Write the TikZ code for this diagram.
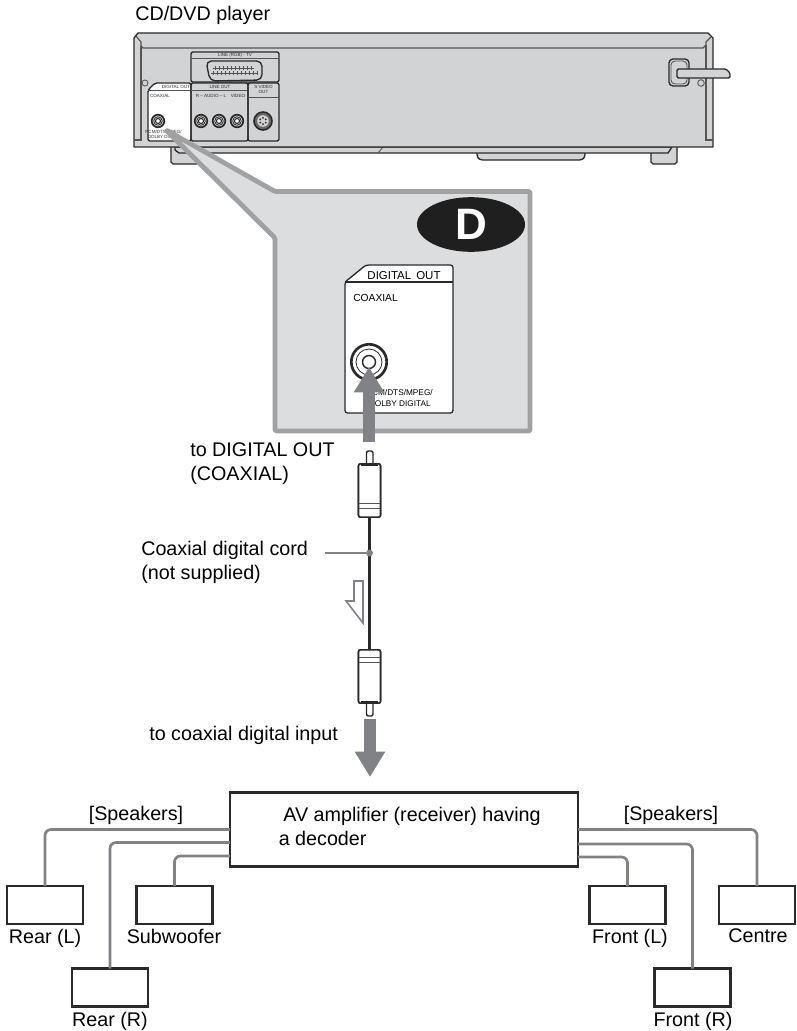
\documentclass[tikz,border=0pt]{standalone}
\usepackage{fontspec}
\setmainfont{Liberation Sans}
\usepackage{xcolor}
\usetikzlibrary{arrows.meta, positioning, shapes.geometric, calc}
\definecolor{bodyGray}{HTML}{D1D3D4}
\definecolor{zoomGray}{HTML}{DCDDDE}
\definecolor{edgeGray}{HTML}{A0A1A3}
\definecolor{arrowGray}{HTML}{808285}
\definecolor{inkDark}{HTML}{2B2A2B}
\tikzset{
    capText/.style={font=\fontsize{14.8}{18}\selectfont, anchor=base west, inner sep=0pt, align=left},
    midText/.style={capText, anchor=base},
    spkBox/.style={draw=inkDark, fill=white, line width=2.2pt, inner sep=0pt, outer sep=0pt, minimum width=57pt, minimum height=28.5pt},
    ampBox/.style={spkBox, minimum width=261pt, minimum height=56pt},
    wire/.style={draw=arrowGray, line width=2pt, rounded corners=4.5pt},
    bodyLine/.style={draw=inkDark, line width=1pt, line join=round},
    thinLine/.style={draw=inkDark!80, line width=0.65pt},
    tinyText/.style={font=\fontsize{3.4}{4}\selectfont, inner sep=0pt, text=inkDark},
    panelText/.style={font=\fontsize{7.7}{9}\selectfont, inner sep=0pt, text=black},
    bigArrow/.style={-{Triangle[length=19pt, width=21.5pt]}, draw=arrowGray, fill=arrowGray, line width=8.7pt},
    plugBody/.style={draw=inkDark, fill=white, line width=1.2pt, rounded corners=1.5pt, inner sep=0pt, outer sep=0pt, minimum width=16.5pt, minimum height=40pt},
    jackRing/.pic={
        \draw[inkDark, fill=zoomGray, line width=1.3pt] (0,0) circle (6.3);
        \draw[inkDark, line width=0.6pt] (0,0) circle (4.3);
        \draw[inkDark, fill=white, line width=0.8pt] (0,0) circle (2.5);
    }
}
\begin{document}
\begin{tikzpicture}[x=0.75pt, y=-0.75pt]
    \useasboundingbox (0,0) rectangle (796,1031);
    % player
    \node[capText] (playerText) at (135,21) {CD/DVD player};
    \draw[bodyLine, fill=bodyGray] (171,147) -- (171,162) -- (173,164) -- (197,164) -- (197,147);
    \draw[bodyLine, fill=bodyGray] (651,153) -- (651,162) -- (653,164) -- (675,164) -- (677,162) -- (677,147);
    \draw[bodyLine, fill=bodyGray, rounded corners=2pt] (477,153) -- (477,157) -- (480,160) -- (582,160) -- (585,157) -- (585,153);
    \draw[bodyLine, fill=bodyGray] (175,147) -- (175,150) -- (179,153) -- (668,153) -- (672,147) -- cycle;
    \draw[thinLine] (383,147) -- (378,153);
    \draw[bodyLine, fill=bodyGray] (134,38) -- (138,33) -- (708,33) -- (713,38) -- (713,147) -- (134,147) -- cycle;
    \draw[thinLine, line width=0.9pt] (136,36) -- (141,42) -- (141,46) -- (143,48) -- (703,48) -- (706,45) -- (706,42) -- (711,37);
    \draw[thinLine, line width=0.9pt] (141,46) -- (141,140) -- (134,140);
    \draw[thinLine, line width=0.9pt] (706,45) -- (706,140) -- (713,140);
    \draw[thinLine] (145,83) circle (3);
    % right end
    \draw[bodyLine, rounded corners=3pt] (669,59) rectangle (689,86);
    \draw[thinLine, rounded corners=3pt] (671,61) rectangle (687,84);
    \draw[bodyLine, fill=bodyGray, rounded corners=1pt] (677,69) -- (726,69) -- (730,73) -- (730,78) -- (677,78) -- cycle;
    \draw[thinLine] (701,83) circle (3.3);
    % back panel
    \draw[bodyLine, rounded corners=1.5pt] (191,52) rectangle (279,82);
    \draw[thinLine] (191,58) -- (279,58);
    \draw[bodyLine, rounded corners=4pt] (206,61) -- (262,61) -- (262,80) -- (210,81) -- cycle;
    \draw[thinLine] (213,68) -- (254,68) (211,73) -- (258,73);
    \foreach \px in {215,219,...,251} { \draw[thinLine] (\px,66) -- (\px,70); }
    \foreach \px in {213,217,...,257} { \draw[thinLine] (\px,71) -- (\px,75); }
    \draw[bodyLine, fill=white, rounded corners=1.5pt] (148,90) -- (155,83) -- (191,83) -- (191,141) -- (148,141) -- cycle;
    \draw[thinLine] (155,90) -- (148,90) (155,90) -- (191,90);
    \draw[bodyLine, rounded corners=1.5pt] (191,83) rectangle (248,141);
    \draw[thinLine] (191,90) -- (248,90);
    \draw[bodyLine, rounded corners=1.5pt] (248,83) rectangle (279,141);
    \draw[thinLine] (248,97) -- (279,97);
    \node[tinyText] (lineScart) at (235,55) {LINE (RGB) - TV};
    \node[tinyText] (digiSmall) at (176,87) {DIGITAL OUT};
    \node[tinyText] (lineOut) at (220,87) {LINE OUT};
    \node[tinyText] (sVideo) at (263.5,90) {\begin{tabular}{@{}c@{}}S VIDEO\\[-0.6pt]OUT\end{tabular}};
    \node[tinyText] (coaxSmall) at (160,96) {COAXIAL};
    \node[tinyText] (audioSmall) at (211,96) {R -- AUDIO -- L};
    \node[tinyText] (videoSmall) at (238,96) {VIDEO};
    \node[tinyText, anchor=east] (pcmSmall) at (182,132) {PCM/DTS/MPEG/};
    \node[tinyText, anchor=east] (dolbySmall) at (182,137) {DOLBY DIGITAL};
    \foreach \jx in {158,201,219,237} { \pic at (\jx,121) {jackRing}; }
    \draw[inkDark, fill=inkDark!70, line width=1.2pt] (263,121) circle (9);
    \draw[fill=bodyGray, draw=none] (263,121) circle (5.8);
    \foreach \sa in {30,90,150,210,270,330} { \fill[inkDark] (263,121) ++(\sa:3.2) circle (1); }
    % zoom callout
    \draw[draw=edgeGray, fill=zoomGray, line width=3.6pt, rounded corners=1pt, line join=round] (166,130) -- (275,191.5) -- (530,191.5) -- (530,431) -- (275,431) -- (275,238) -- cycle;
    \node[ellipse, fill=black!88, inner sep=0pt, minimum width=81pt, minimum height=41pt, text=white, font=\fontsize{33}{36}\bfseries\selectfont] (badgeD) at (471,224.5) {D};
    \draw[draw=inkDark, fill=white, line width=1pt, rounded corners=2pt] (345,282) -- (366,265) -- (453,265) -- (453,413) -- (345,413) -- cycle;
    \draw[inkDark, line width=0.8pt] (345,282) -- (453,282);
    \node[panelText, font=\fontsize{8.6}{10}\selectfont, anchor=base] (digiBig) at (404,279) {DIGITAL\, OUT};
    \node[panelText, anchor=base west] (coaxBig) at (353,301) {COAXIAL};
    \node[panelText, font=\fontsize{6.2}{7}\selectfont, anchor=base east] (pcmBig) at (433,395) {PCM/DTS/MPEG/};
    \node[panelText, font=\fontsize{6.2}{7}\selectfont, anchor=base east] (dolbyBig) at (431,406) {DOLBY DIGITAL};
    \draw[inkDark, line width=2pt] (369,362) circle (17.7);
    \draw[inkDark, line width=0.6pt] (369,362) circle (13);
    \draw[inkDark, line width=1.1pt] (369,362) circle (6.5);
    % cord
    \coordinate (jackTip) at (369,367);
    \coordinate (upperTail) at (369,442);
    \draw[bigArrow] (upperTail) -- (jackTip);
    \draw[draw=inkDark, fill=white, line width=1.1pt, rounded corners=1.5pt] (366.5,465) -- (366.5,451) -- (373,451) -- (373,465);
    \draw[draw=inkDark, fill=white, line width=1.1pt, rounded corners=1.5pt] (366.5,703) -- (366.5,716) -- (373,716) -- (373,703);
    \node[plugBody] (plugTop) at (369.5,490.5) {};
    \node[plugBody] (plugLow) at (369.5,676.5) {};
    \draw[inkDark, line width=2.9pt] (plugTop) -- (plugLow);
    \node[plugBody] at (plugTop) {};
    \node[plugBody] at (plugLow) {};
    \draw[thinLine] (359,503.5) -- (380,503.5) (359,508) -- (380,508) (359,657) -- (380,657) (359,662) -- (380,662);
    \draw[inkDark, line width=1.6pt] (361,464.5) -- (378,464.5) (361,702.5) -- (378,702.5);
    \node[circle, fill=arrowGray, inner sep=0pt, minimum size=5.2pt] (cordDot) at (369.5,553) {};
    \coordinate (leaderEnd) at (325,553);
    \draw[arrowGray, line width=1.1pt] (leaderEnd) -- (cordDot);
    \draw[draw=arrowGray, line width=1.2pt] (354,581) -- (363,581) -- (363,623) -- (346,601) -- (354,601) -- cycle;
    \coordinate (lowerTail) at (370,719);
    \coordinate (ampTip) at (370,777);
    \draw[bigArrow] (lowerTail) -- (ampTip);
    \node[capText] (toDigital) at (190,480) {to DIGITAL OUT\\(COAXIAL)};
    \node[capText] (cordText) at (141,579) {Coaxial digital cord\\(not supplied)};
    \node[capText] (toCoax) at (149,740) {to coaxial digital input};
    % amplifier and speakers
    \node[ampBox] (amp) at (404,829.5) {};
    \node[capText] (ampText) at (278.5,845) {\hspace*{3.4pt}AV amplifier (receiver) having\\a decoder};
    \node[spkBox] (rearL) at (45,905) {};
    \node[spkBox] (subW) at (174.5,905) {};
    \node[spkBox] (rearR) at (110,987.5) {};
    \node[spkBox] (frontL) at (627.5,905) {};
    \node[spkBox] (centre) at (757,905) {};
    \node[spkBox] (frontR) at (692.5,987.5) {};
    \draw[wire] (amp.west) -| (rearL.north);
    \draw[wire] ($(amp.west)+(0,13)$) -| (rearR.north);
    \draw[wire] ($(amp.west)+(0,26.5)$) -| (subW.north);
    \draw[wire] (amp.east) -| (centre.north);
    \draw[wire] ($(amp.east)+(0,14.5)$) -| (frontR.north);
    \draw[wire] ($(amp.east)+(0,27.5)$) -| (frontL.north);
    \node[midText] (spkTextL) at (136,820) {[Speakers]};
    \node[midText] (spkTextR) at (671,820) {[Speakers]};
    \node[midText] (rearLText) at (45,943) {Rear (L)};
    \node[midText] (subText) at (174,943) {Subwoofer};
    \node[midText] (rearRText) at (110,1026) {Rear (R)};
    \node[midText] (frontLText) at (630,943) {Front (L)};
    \node[midText] (centreText) at (758,942) {Centre};
    \node[midText] (frontRText) at (693,1026) {Front (R)};
\end{tikzpicture}
\end{document}
